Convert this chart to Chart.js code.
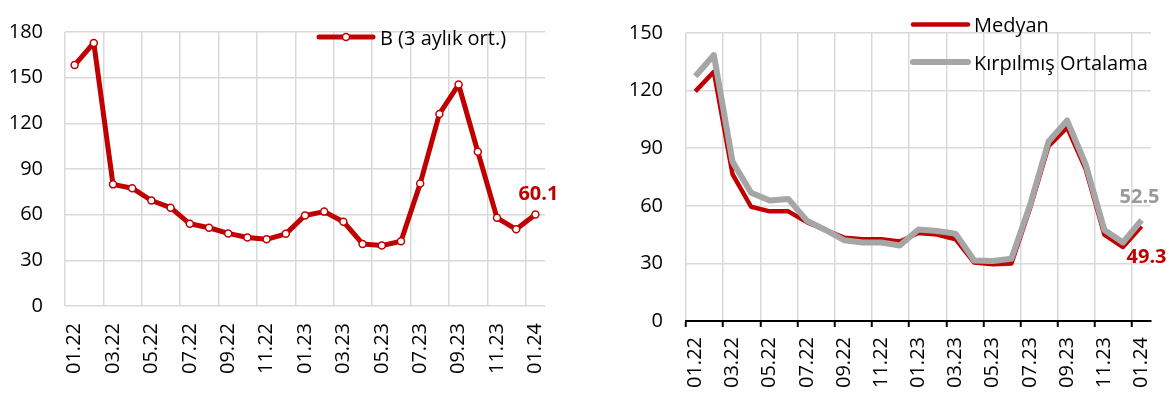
<!DOCTYPE html>
<html>
<head>
<meta charset="utf-8">
<script src="https://cdn.jsdelivr.net/npm/chart.js@4"></script>
<style>
  body { margin: 0; background: #fff; }
  canvas { position: absolute; top: 0; }
  #leftChart { left: 0; }
  #rightChart { left: 588px; }
</style>
</head>
<body>
<canvas id="leftChart" width="588" height="394"></canvas>
<canvas id="rightChart" width="588" height="394"></canvas>
<script>
const months = ['01.22','02.22','03.22','04.22','05.22','06.22','07.22','08.22','09.22','10.22','11.22','12.22',
                '01.23','02.23','03.23','04.23','05.23','06.23','07.23','08.23','09.23','10.23','11.23','12.23','01.24'];

const bAvg = [158.3, 172.8, 79.9, 77.4, 69.3, 64.6, 54.0, 51.4, 47.7, 45.0, 43.8, 47.4,
              59.5, 62.0, 55.4, 40.8, 39.7, 42.5, 80.4, 126.2, 145.5, 101.3, 57.9, 50.4, 60.1];

const medyan = [119.6, 129.8, 76.5, 59.5, 57.1, 57.1, 51.5, 47.4, 43.4, 42.6, 42.6, 41.4,
                45.8, 45.0, 42.6, 30.4, 29.6, 29.9, 58.7, 91.1, 100.8, 79.0, 45.0, 38.5, 49.3];

const kirpilmis = [127.5, 138.5, 83.0, 66.8, 62.8, 63.6, 52.3, 47.4, 42.1, 40.9, 40.9, 39.3,
                   47.7, 46.9, 45.5, 31.5, 31.2, 32.4, 60.3, 93.5, 104.4, 81.4, 47.4, 40.9, 52.5];

const leftTicks = [0, 30, 60, 90, 120, 150, 180];
const rightTicks = [0, 30, 60, 90, 120, 150];

const RED = '#C00000';
const GREY = '#A6A6A6';
const GRID = '#D9D9D9';
const FONT = '"Open Sans", sans-serif';

Chart.defaults.font.family = FONT;
Chart.defaults.color = '#000';

// every second category boundary gets a grid line
const evenOnly = (color) => (c) => (c.index !== undefined && c.index % 2 === 0) ? color : 'rgba(0,0,0,0)';

// legend drawn inside the plot: line sample (+ marker) and label
const lineLegend = {
  id: 'lineLegend',
  afterDraw(chart, args, opts) {
    const ctx = chart.ctx;
    ctx.save();
    ctx.font = '20px ' + FONT;
    ctx.textBaseline = 'middle';
    chart.data.datasets.forEach((ds, i) => {
      const y = opts.y + i * opts.rowHeight;
      ctx.strokeStyle = ds.borderColor;
      ctx.lineWidth = ds.borderWidth;
      ctx.lineCap = 'round';
      ctx.beginPath();
      ctx.moveTo(opts.x, y);
      ctx.lineTo(opts.x + opts.lineLength, y);
      ctx.stroke();
      if (ds.pointRadius > 0) {
        ctx.beginPath();
        ctx.arc(opts.x + opts.lineLength / 2, y, ds.pointRadius, 0, Math.PI * 2);
        ctx.fillStyle = ds.pointBackgroundColor;
        ctx.fill();
        ctx.lineWidth = ds.pointBorderWidth;
        ctx.strokeStyle = ds.pointBorderColor;
        ctx.stroke();
      }
      ctx.fillStyle = '#000';
      ctx.fillText(ds.label, opts.x + opts.lineLength + opts.gap, y + 2);
    });
    ctx.restore();
  }
};

// value label next to the last point of a dataset
const lastLabel = {
  id: 'lastLabel',
  afterDatasetsDraw(chart, args, opts) {
    const ctx = chart.ctx;
    ctx.save();
    ctx.font = 'bold 20px ' + FONT;
    ctx.textAlign = 'center';
    ctx.textBaseline = 'middle';
    opts.items.forEach(it => {
      const meta = chart.getDatasetMeta(it.dataset);
      const data = chart.data.datasets[it.dataset].data;
      const pt = meta.data[data.length - 1];
      ctx.fillStyle = it.color;
      ctx.fillText(data[data.length - 1].toFixed(1), pt.x + it.dx, pt.y + it.dy);
    });
    ctx.restore();
  }
};

function xScale(tickLen, pad, height, showBorder) {
  return {
    type: 'category',
    offset: true,
    grid: {
      offset: true,
      color: evenOnly(GRID),
      lineWidth: 1.5,
      drawTicks: showBorder,
      tickLength: tickLen,
      tickColor: evenOnly('#000'),
      tickWidth: 2
    },
    border: { display: showBorder, color: '#000', width: 2 },
    ticks: {
      autoSkip: false,
      maxRotation: 90,
      minRotation: 90,
      padding: pad,
      font: { size: 20 },
      callback: (v, i) => i % 2 === 0 ? months[i] : ''
    },
    afterFit: (s) => { s.height = height; }
  };
}

function yScale(ticks, pad, width) {
  return {
    min: ticks[0],
    max: ticks[ticks.length - 1],
    grid: { color: GRID, lineWidth: 1.5, drawTicks: false },
    border: { display: false },
    ticks: {
      stepSize: ticks[1] - ticks[0],
      padding: pad,
      font: { size: 20, lineHeight: 1 }
    },
    afterFit: (s) => { s.width = width; }
  };
}

new Chart(document.getElementById('leftChart'), {
  type: 'line',
  data: {
    labels: months,
    datasets: [{
      label: 'B (3 aylık ort.)',
      data: bAvg,
      borderColor: RED,
      borderWidth: 5,
      borderJoinStyle: 'round',
      tension: 0,
      pointRadius: 3.5,
      pointBorderWidth: 1.5,
      pointBackgroundColor: '#fff',
      pointBorderColor: RED
    }]
  },
  options: {
    responsive: false,
    animation: false,
    layout: { padding: { top: 11, right: 43, bottom: 0, left: 0 } },
    scales: {
      x: xScale(0, 17, 88, false),
      y: yScale(leftTicks, 22, 65)
    },
    plugins: {
      legend: { display: false },
      tooltip: { enabled: false },
      lineLegend: { x: 319, y: 37, lineLength: 54, gap: 7, rowHeight: 37 },
      lastLabel: { items: [{ dataset: 0, dx: 3, dy: -20, color: RED }] }
    }
  },
  plugins: [lineLegend, lastLabel]
});

new Chart(document.getElementById('rightChart'), {
  type: 'line',
  data: {
    labels: months,
    datasets: [{
      label: 'Medyan',
      data: medyan,
      borderColor: RED,
      borderWidth: 4.5,
      borderJoinStyle: 'round',
      tension: 0,
      pointRadius: 0,
      order: 2
    }, {
      label: 'Kırpılmış Ortalama',
      data: kirpilmis,
      borderColor: GREY,
      borderWidth: 6,
      borderJoinStyle: 'round',
      tension: 0,
      pointRadius: 0,
      order: 1
    }]
  },
  options: {
    responsive: false,
    animation: false,
    layout: { padding: { top: 12, right: 23, bottom: 0, left: 0 } },
    scales: {
      x: xScale(6, 10, 73, true),
      y: yScale(rightTicks, 23, 98)
    },
    plugins: {
      legend: { display: false },
      tooltip: { enabled: false },
      lineLegend: { x: 325, y: 24.5, lineLength: 55, gap: 6, rowHeight: 37.4 },
      lastLabel: { items: [
        { dataset: 1, dx: -2, dy: -23, color: '#999999' },
        { dataset: 0, dx: 5, dy: 31, color: RED }
      ] }
    }
  },
  plugins: [lineLegend, lastLabel]
});
</script>
</body>
</html>
